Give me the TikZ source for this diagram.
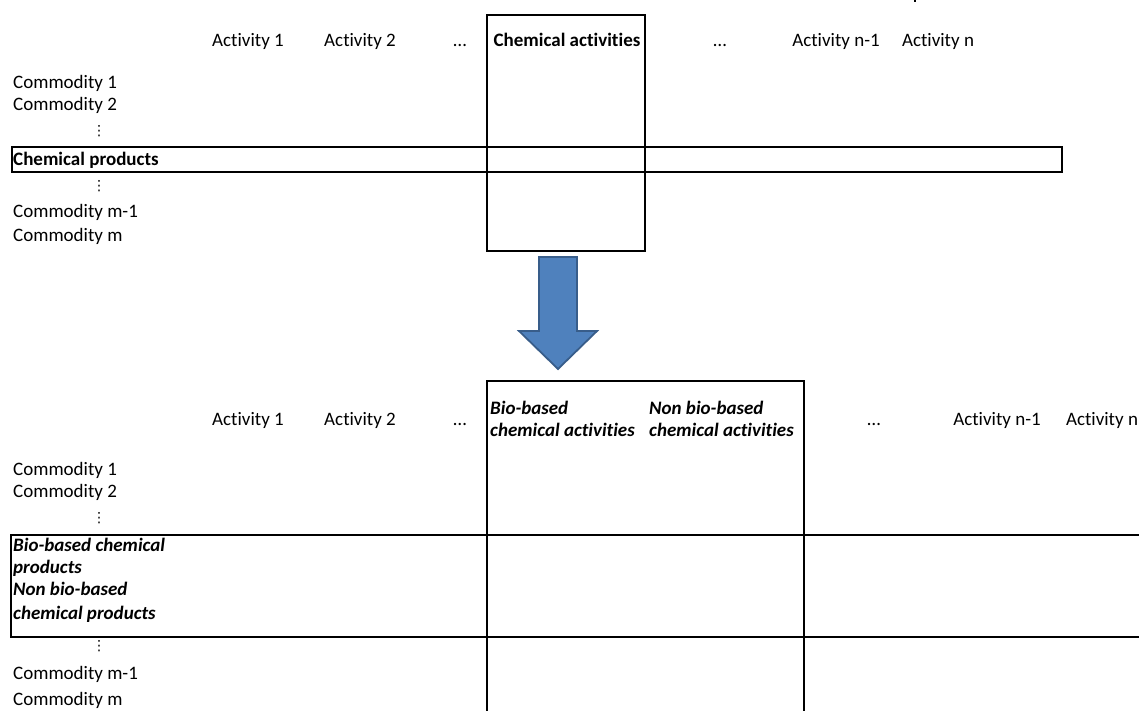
\documentclass[tikz,border=0pt]{standalone}
\usepackage{fontspec}
\setmainfont{Carlito}[Ligatures=NoCommon]
\newfontfamily\djv{DejaVu Sans}
\begin{document}
\begin{tikzpicture}[x=1pt,y=-1pt,
  lbl/.style={inner sep=0pt,anchor=mid,font=\fontsize{19}{22}\selectfont},
  lblw/.style={lbl,anchor=mid west},
  bl/.style={lblw,font=\fontsize{19}{22}\selectfont\bfseries},
  bil/.style={lblw,font=\fontsize{19}{22}\selectfont\bfseries\itshape},
  vd/.style={inner sep=0pt,anchor=center,font=\fontsize{14}{14}\selectfont\djv},
  frame/.style={draw=black,line width=1.6pt},
  bigarrow/.style={fill=arrowblue,draw=arrowedge,line width=1.8pt,line join=miter}]
\definecolor{arrowblue}{HTML}{4F81BD}
\definecolor{arrowedge}{HTML}{385D8A}
\useasboundingbox (0,0) rectangle (1139,711);
% ---------- top table ----------
\draw[frame] (487,15) rectangle (645,251);
\draw[frame] (12,147) rectangle (1062,172);
\node[lbl] (ta1) at (248,44) {Activity 1};
\node[lbl] (ta2) at (360,44) {Activity 2};
\node[lbl] (tdl) at (460,44) {…};
\node[lbl,font=\fontsize{19}{22}\selectfont\bfseries] (tchem) at (567,44) {Chemical activities};
\node[lbl] (tdr) at (720,44) {…};
\node[lbl] (tan1) at (836,44) {Activity n-1};
\node[lbl] (tan) at (938,44) {Activity n};
\node[lblw] (tc1) at (13,86) {Commodity 1};
\node[lblw] (tc2) at (13,108) {Commodity 2};
\node[vd] (tv1) at (99,131) {⋮};
\node[bl] (tcp) at (13,163) {Chemical products};
\node[vd] (tv2) at (99,186) {⋮};
\node[lblw] (tcm1) at (13,215) {Commodity m-1};
\node[lblw] (tcm) at (13,239) {Commodity m};
\fill (914,0) rectangle (916,2);
% ---------- arrow ----------
\draw[bigarrow] (539,257) -- (577,257) -- (577,331) -- (597,331) -- (558,369) -- (519,331) -- (539,331) -- cycle;
% ---------- bottom table ----------
\draw[frame] (487,725) -- (487,381) -- (804,381) -- (804,725);
\draw[frame] (1150,535) -- (11,535) -- (11,637) -- (1150,637);
\node[lbl] (ba1) at (248,423) {Activity 1};
\node[lbl] (ba2) at (360,423) {Activity 2};
\node[lbl] (bdl) at (460,423) {…};
\node[bil,anchor=west] (bbio) at (490,421) {\begin{tabular}{@{}l@{}}Bio-based\\chemical activities\end{tabular}};
\node[bil,anchor=west] (bnon) at (649,421) {\begin{tabular}{@{}l@{}}Non bio-based\\chemical activities\end{tabular}};
\node[lbl] (bdr) at (874,423) {…};
\node[lbl] (ban1) at (997,423) {Activity n-1};
\node[lbl] (ban) at (1102,423) {Activity n};
\node[lblw] (bc1) at (13,473) {Commodity 1};
\node[lblw] (bc2) at (13,495) {Commodity 2};
\node[vd] (bv1) at (99,518) {⋮};
\node[bil] (bp1) at (13,549) {Bio-based chemical};
\node[bil] (bp2) at (13,571) {products};
\node[bil] (bp3) at (13,593) {Non bio-based};
\node[bil] (bp4) at (13,617) {chemical products};
\node[vd] (bv2) at (99,646) {⋮};
\node[lblw] (bcm1) at (13,677) {Commodity m-1};
\node[lblw] (bcm) at (13,703) {Commodity m};
\end{tikzpicture}
\end{document}
